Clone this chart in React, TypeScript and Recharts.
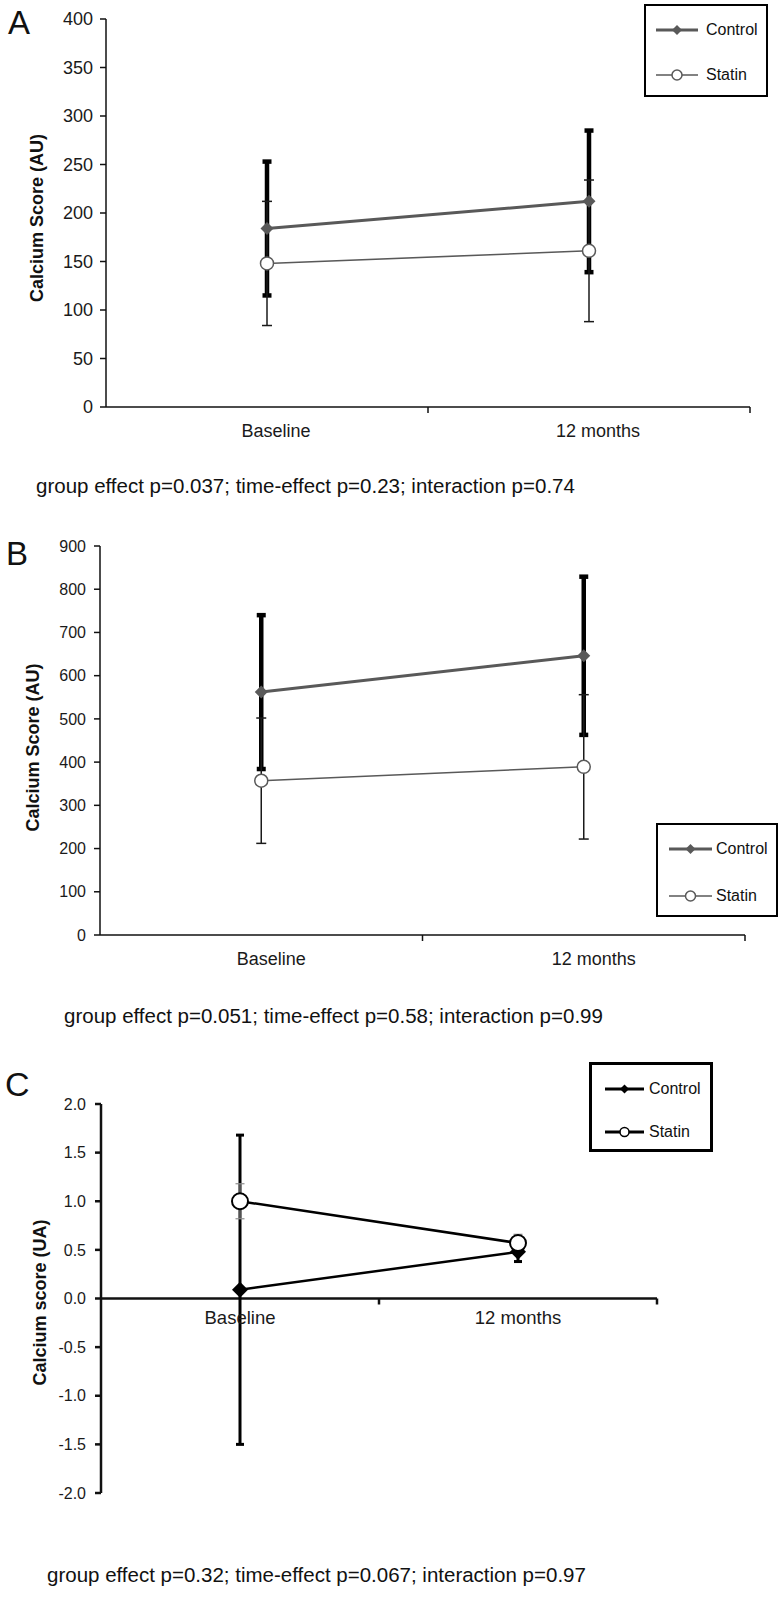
import React from "react"
import { LineChart, Line, XAxis, YAxis, ErrorBar, ReferenceLine, ReferenceDot, Legend, Label } from "recharts"

const FONT = '"Liberation Sans", Arial, Helvetica, sans-serif'

const categories = ["Baseline", "12 months"]

// panel A
const aControl = [184, 212]
const aControlSd = [69, 73]
const aStatin = [148, 161]
const aStatinSd = [64, 73]
const aTicks = [0, 50, 100, 150, 200, 250, 300, 350, 400]

// panel B
const bControl = [562, 646]
const bControlSd = [178, 183]
const bStatin = [357, 389]
const bStatinSd = [145, 167]
const bTicks = [0, 100, 200, 300, 400, 500, 600, 700, 800, 900]

// panel C
const cControl = [0.09, 0.48]
const cControlSd = [1.59, 0.1]
const cStatin = [1.0, 0.57]
const cStatinSd = [0.18, 0.09]
const cTicks = [-2, -1.5, -1, -0.5, 0, 0.5, 1, 1.5, 2]

const footnotes = [
  "group effect p=0.037; time-effect p=0.23; interaction p=0.74",
  "group effect p=0.051; time-effect p=0.58; interaction p=0.99",
  "group effect p=0.32; time-effect p=0.067; interaction p=0.97",
]

const makeRows = (control: number[], controlSd: number[], statin: number[], statinSd: number[]) =>
  categories.map((name, i) => ({
    name,
    x: i + 0.5,
    control: control[i],
    controlSd: controlSd[i],
    statin: statin[i],
    statinSd: statinSd[i],
  }))

const diamond = (r: number, fill: string) => (d: any) =>
  (
    <path
      key={`dm-${d.index}`}
      d={`M${d.cx},${d.cy - r}L${d.cx + r},${d.cy}L${d.cx},${d.cy + r}L${d.cx - r},${d.cy}Z`}
      fill={fill}
    />
  )

const ring = (r: number, stroke: string, sw: number) => (d: any) =>
  <circle key={`rg-${d.index}`} cx={d.cx} cy={d.cy} r={r} fill="#fff" stroke={stroke} strokeWidth={sw} />

const yTitle = (text: string, cx: number, dy: number, size: number) => (props: any) => {
  const vb = props.viewBox
  const cy = vb.y + vb.height / 2 + dy
  return (
    <text
      x={cx}
      y={cy}
      transform={`rotate(-90 ${cx} ${cy})`}
      textAnchor="middle"
      dominantBaseline="central"
      fontSize={size}
      fontWeight="bold"
      fontFamily={FONT}
      fill="#111"
    >
      {text}
    </text>
  )
}

function LegendBox({ s }: { s: any }) {
  const mid = (s.lx1 + s.lx2) / 2
  const row = (y: number, label: string, ctrl: boolean) => (
    <div style={{ position: "absolute", left: 0, top: y - 10, height: 20, width: "100%" }}>
      <svg width={60} height={20} style={{ position: "absolute", left: 0, top: 0 }}>
        <line x1={s.lx1} x2={s.lx2} y1={10} y2={10} stroke={s.color} strokeWidth={ctrl ? 3 : s.statinLine} />
        {ctrl ? (
          <path d={`M${mid},${10 - s.mk}L${mid + s.mk},10L${mid},${10 + s.mk}L${mid - s.mk},10Z`} fill={s.color} />
        ) : (
          <circle cx={mid} cy={10} r={s.mk} fill="#fff" stroke={s.color} strokeWidth={1.5} />
        )}
      </svg>
      <span
        style={{
          position: "absolute",
          left: s.tx,
          top: 0,
          lineHeight: "20px",
          fontSize: 16,
          fontFamily: FONT,
          color: "#111",
          whiteSpace: "nowrap",
        }}
      >
        {label}
      </span>
    </div>
  )
  return (
    <div
      style={{
        position: "relative",
        width: s.w,
        height: s.h,
        border: `${s.border}px solid #000`,
        boxSizing: "border-box",
        background: "#fff",
      }}
    >
      {row(s.r1, "Control", true)}
      {row(s.r2, "Statin", false)}
    </div>
  )
}

function Panel(p: any) {
  const data = makeRows(p.control, p.controlSd, p.statin, p.statinSd)
  return (
    <LineChart width={782} height={p.height} data={data} margin={p.margin}>
      <XAxis type="number" dataKey="x" domain={[0, categories.length]} hide />
      <YAxis
        type="number"
        domain={[p.ticks[0], p.ticks[p.ticks.length - 1]]}
        ticks={p.ticks}
        interval={0}
        width={60}
        axisLine={{ stroke: "#111", strokeWidth: p.axisWidth }}
        tickLine={{ stroke: "#111", strokeWidth: p.axisWidth }}
        tickSize={6}
        tickMargin={p.tickMargin}
        tick={{ fill: "#1a1a1a", fontSize: p.tickFont, fontFamily: FONT }}
        tickFormatter={p.fmt}
      >
        <Label content={yTitle(p.title, p.titleX, p.titleDy, p.titleFont)} />
      </YAxis>
      <ReferenceLine y={0} stroke="#111" strokeWidth={p.axisWidth} />
      {categories.map((_, i) => (
        <ReferenceDot
          key={`tk${i}`}
          x={i + 1}
          y={0}
          shape={(s: any) => (
            <line x1={s.cx} x2={s.cx} y1={s.cy} y2={s.cy + 6} stroke="#111" strokeWidth={p.axisWidth} />
          )}
        />
      ))}
      {categories.map((c, i) => (
        <ReferenceDot
          key={`lb${i}`}
          x={i + 0.5}
          y={0}
          shape={(s: any) => (
            <text
              x={s.cx + p.labelDx}
              y={s.cy + p.labelDy}
              textAnchor="middle"
              dominantBaseline="central"
              fontSize={p.labelFont}
              fontFamily={FONT}
              fill="#1a1a1a"
            >
              {c}
            </text>
          )}
        />
      ))}
      <Line
        dataKey="control"
        stroke={p.color}
        strokeWidth={p.controlWidth}
        dot={diamond(p.diamondR, p.color)}
        activeDot={false}
        isAnimationActive={false}
      >
        <ErrorBar dataKey="controlSd" direction="y" width={p.ctrlCap} strokeWidth={p.ctrlBar} stroke="#000" />
      </Line>
      <Line
        dataKey="statin"
        stroke={p.color}
        strokeWidth={p.statinWidth}
        dot={ring(p.ringR, p.color, p.ringSw)}
        activeDot={false}
        isAnimationActive={false}
      >
        <ErrorBar dataKey="statinSd" direction="y" width={p.statCap} strokeWidth={p.statBar} stroke={p.statBarColor} />
      </Line>
      <Legend
        layout="horizontal"
        verticalAlign="middle"
        align="center"
        wrapperStyle={{ left: p.legend.left, top: p.legend.top, width: p.legend.w, height: p.legend.h }}
        content={() => <LegendBox s={p.legend} />}
      />
    </LineChart>
  )
}

const grey = "#595959"

export default function App() {
  return (
    <div style={{ position: "absolute", left: 0, top: 0, width: 782, height: 1599, background: "#fff" }}>
      <div style={{ position: "absolute", left: 0, top: 0 }}>
        <Panel
          height={470}
          margin={{ top: 19, right: 32, left: 46, bottom: 63 }}
          control={aControl}
          controlSd={aControlSd}
          statin={aStatin}
          statinSd={aStatinSd}
          ticks={aTicks}
          fmt={(v: number) => `${v}`}
          axisWidth={1.5}
          tickMargin={7}
          tickFont={18}
          title="Calcium Score (AU)"
          titleX={37}
          titleDy={5}
          titleFont={18}
          labelDx={9}
          labelDy={24}
          labelFont={18}
          color={grey}
          controlWidth={3}
          statinWidth={1.5}
          diamondR={6.5}
          ringR={6.5}
          ringSw={1.5}
          ctrlCap={4.5}
          ctrlBar={4.5}
          statCap={5}
          statBar={1.5}
          statBarColor="#1a1a1a"
          legend={{ left: 644, top: 4, w: 124, h: 93, border: 2, r1: 24, r2: 69, lx1: 10, lx2: 52, tx: 60, mk: 5, color: grey, statinLine: 1.5 }}
        />
      </div>
      <div style={{ position: "absolute", left: 0, top: 500 }}>
        <Panel
          height={470}
          margin={{ top: 46, right: 37, left: 40, bottom: 35 }}
          control={bControl}
          controlSd={bControlSd}
          statin={bStatin}
          statinSd={bStatinSd}
          ticks={bTicks}
          fmt={(v: number) => `${v}`}
          axisWidth={1.5}
          tickMargin={8}
          tickFont={16}
          title="Calcium Score (AU)"
          titleX={33}
          titleDy={7}
          titleFont={18}
          labelDx={10}
          labelDy={24}
          labelFont={18}
          color={grey}
          controlWidth={3}
          statinWidth={1.5}
          diamondR={6.5}
          ringR={6.5}
          ringSw={1.5}
          ctrlCap={4.5}
          ctrlBar={4.5}
          statCap={5}
          statBar={1.5}
          statBarColor="#1a1a1a"
          legend={{ left: 656, top: 323, w: 122, h: 94, border: 2, r1: 24, r2: 71, lx1: 11, lx2: 54, tx: 58, mk: 5, color: grey, statinLine: 1.5 }}
        />
      </div>
      <div style={{ position: "absolute", left: 0, top: 1040 }}>
        <Panel
          height={530}
          margin={{ top: 64, right: 125, left: 41, bottom: 77 }}
          control={cControl}
          controlSd={cControlSd}
          statin={cStatin}
          statinSd={cStatinSd}
          ticks={cTicks}
          fmt={(v: number) => v.toFixed(1)}
          axisWidth={2.5}
          tickMargin={9}
          tickFont={16}
          title="Calcium score (UA)"
          titleX={40}
          titleDy={4}
          titleFont={18}
          labelDx={0}
          labelDy={19}
          labelFont={18.5}
          color="#000"
          controlWidth={2.5}
          statinWidth={2.5}
          diamondR={8}
          ringR={8}
          ringSw={2}
          ctrlCap={4}
          ctrlBar={3}
          statCap={4.5}
          statBar={1.2}
          statBarColor="#8c8c8c"
          legend={{ left: 589, top: 22, w: 124, h: 90, border: 3, r1: 24, r2: 67, lx1: 13, lx2: 52, tx: 57, mk: 4.5, color: "#000", statinLine: 3 }}
        />
      </div>
      <svg
        width={782}
        height={1599}
        style={{ position: "absolute", left: 0, top: 0, pointerEvents: "none" }}
        fontFamily={FONT}
        fill="#111"
      >
        <text x={8} y={34} fontSize={33}>A</text>
        <text x={6} y={565} fontSize={33}>B</text>
        <text x={5} y={1096} fontSize={34}>C</text>
        <text x={36} y={493} fontSize={20.5}>{footnotes[0]}</text>
        <text x={64} y={1023} fontSize={20.5}>{footnotes[1]}</text>
        <text x={47} y={1582} fontSize={20.5}>{footnotes[2]}</text>
      </svg>
    </div>
  )
}
